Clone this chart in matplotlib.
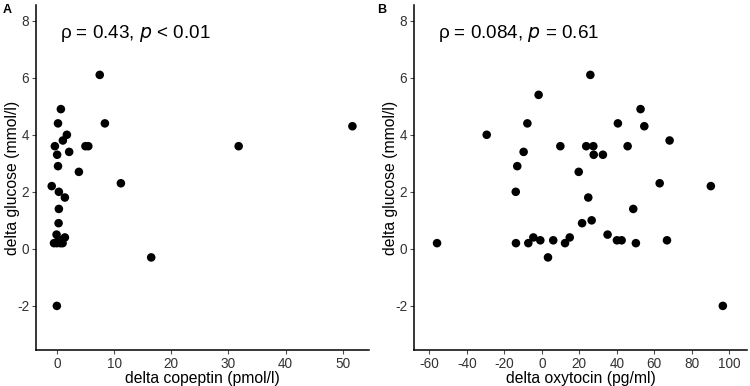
import matplotlib
matplotlib.use("Agg")
import matplotlib.pyplot as plt

plt.rcParams["font.family"] = ["Liberation Sans", "DejaVu Sans"]

# panel A: delta copeptin vs delta glucose
copeptin = [0.7, 0.2, 8.4, 1.75, 1.05, -0.35, 5.0, 5.5, 0.05, 2.15, 0.2, 3.85,
            11.2, -0.9, 0.35, 1.4, 0.35, 0.3, -0.05, 1.4, -0.5, 0.0, 0.3, 0.6,
            1.0, 0.5, 16.5, 0.0, 7.5, 31.8, 51.7]
glucose_a = [4.9, 4.4, 4.4, 4.0, 3.8, 3.6, 3.6, 3.6, 3.3, 3.4, 2.9, 2.7,
             2.3, 2.2, 2.0, 1.8, 1.4, 0.9, 0.5, 0.4, 0.2, 0.2, 0.3, 0.2,
             0.2, 0.3, -0.3, -2.0, 6.1, 3.6, 4.3]

# panel B: delta oxytocin vs delta glucose
oxytocin = [-55.9, -29.4, -1.7, -7.7, -9.7, -13.1, -13.9, -13.8, -7.2, -4.5,
            -0.8, 3.3, 6.1, 9.9, 12.4, 14.9, 19.7, 21.5, 25.9, 52.7, 40.6, 54.7,
            68.2, 23.7, 27.5, 45.8, 27.7, 32.6, 62.9, 90.2, 24.8, 48.8, 26.6,
            35.1, 40.1, 42.6, 50.2, 66.8, 96.6]
glucose_b = [0.2, 4.0, 5.4, 4.4, 3.4, 2.9, 2.0, 0.2, 0.2, 0.4,
             0.3, -0.3, 0.3, 3.6, 0.2, 0.4, 2.7, 0.9, 6.1, 4.9, 4.4, 4.3,
             3.8, 3.6, 3.6, 3.6, 3.3, 3.3, 2.3, 2.2, 1.8, 1.4, 1.0,
             0.5, 0.3, 0.3, 0.2, 0.3, -2.0]

y_ticks = [-2, 0, 2, 4, 6, 8]
x_ticks_a = [0, 10, 20, 30, 40, 50]
x_ticks_b = [-60, -40, -20, 0, 20, 40, 60, 80, 100]


def style_axis(ax):
    for side in ("top", "right"):
        ax.spines[side].set_visible(False)
    for side in ("left", "bottom"):
        ax.spines[side].set_linewidth(1.1)
        ax.spines[side].set_color("black")
    ax.tick_params(axis="both", length=3, width=0.8, color="#4d4d4d",
                   labelcolor="#333333", labelsize=9.8, pad=2)
    ax.set_ylim(-3.55, 8.55)
    ax.set_yticks(y_ticks)
    ax.set_yticklabels([str(t) for t in y_ticks])
    ax.set_ylabel("delta glucose (mmol/l)", fontsize=11.3)
    ax.yaxis.set_label_coords(-0.047, 0.5)


fig = plt.figure(figsize=(7.5, 3.86), dpi=100)
ax_a = fig.add_axes([0.048, 0.093, 0.444, 0.894])
ax_b = fig.add_axes([0.552, 0.093, 0.444, 0.894])

ax_a.scatter(copeptin, glucose_a, s=38, color="black", edgecolors="none")
style_axis(ax_a)
ax_a.set_xlim(-3.65, 54.6)
ax_a.set_xticks(x_ticks_a)
ax_a.set_xticklabels([str(t) for t in x_ticks_a])
ax_a.set_xlabel("delta copeptin (pmol/l)", fontsize=11.3)
ax_a.xaxis.set_label_coords(0.5, -0.062)
ax_a.text(0.5, 7.55, r"ρ = 0.43, $\it{p}$ < 0.01", fontsize=13.6, va="center", ha="left")

ax_b.scatter(oxytocin, glucose_b, s=38, color="black", edgecolors="none")
style_axis(ax_b)
ax_b.set_xlim(-68.2, 109.5)
ax_b.set_xticks(x_ticks_b)
ax_b.set_xticklabels([str(t) for t in x_ticks_b])
ax_b.set_xlabel("delta oxytocin (pg/ml)", fontsize=11.3)
ax_b.xaxis.set_label_coords(0.5, -0.062)
ax_b.text(-55.4, 7.55, r"ρ = 0.084, $\it{p}$ = 0.61", fontsize=13.6, va="center", ha="left")

fig.text(0.003, 0.975, "A", fontsize=9, fontweight="bold", va="center", ha="left")
fig.text(0.503, 0.975, "B", fontsize=9, fontweight="bold", va="center", ha="left")

fig.savefig("out.png", dpi=100)
